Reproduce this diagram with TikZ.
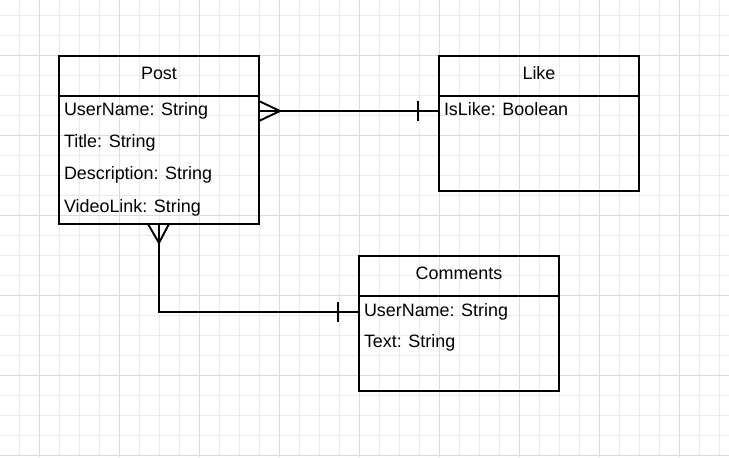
\documentclass[tikz,border=0pt]{standalone}
\usepackage{fontspec}
\setmainfont{Liberation Sans}
\usetikzlibrary{calc}

\begin{document}
\begin{tikzpicture}[x=0.02cm,y=-0.02cm,
    every node/.style={font=\fontsize{10.2}{12}\selectfont, inner sep=0pt, outer sep=0pt},
    minorgrid/.style={color=black!8, line width=0.55pt},
    majorgrid/.style={color=black!14, line width=0.55pt},
    entity/.style={draw=black, line width=1.2pt, minimum width=4cm, anchor=north west},
    head/.style={minimum height=0.8cm, text height=0.18cm, text depth=0.05cm},
    field/.style={anchor=base west},
    rel/.style={draw=black, line width=1.1pt}]
    \useasboundingbox (0,0) rectangle (729,457);
    \fill[white] (0,0) rectangle (729,457);
    % grid paper
    \foreach \x in {19.5,39.5,...,719.5} \draw[minorgrid] (\x,0) -- (\x,457);
    \foreach \y in {15,35,...,455} \draw[minorgrid] (0,\y) -- (729,\y);
    \foreach \x in {39.5,119.5,...,679.5} \draw[majorgrid] (\x,0) -- (\x,457);
    \foreach \y in {55,135,...,455} \draw[majorgrid] (0,\y) -- (729,\y);

    % Post
    \node[entity, head] (post) at (59,56) {Post};
    \node[entity, minimum height=2.56cm] (postbody) at (post.south west) {};
    \node[field] (postuser) at ($(postbody.north west)+(5,20)$) {UserName: String};
    \node[field] (posttitle) at ($(postbody.north west)+(5,52)$) {Title: String};
    \node[field] (postdesc) at ($(postbody.north west)+(5,84)$) {Description: String};
    \node[field] (postvideo) at ($(postbody.north west)+(5,116)$) {VideoLink: String};

    % Like
    \node[entity, head] (like) at (439,56) {Like};
    \node[entity, minimum height=1.9cm] (likebody) at (like.south west) {};
    \node[field] (likeis) at ($(likebody.north west)+(5,20)$) {IsLike: Boolean};

    % Comments
    \node[entity, head] (comm) at (359,256) {Comments};
    \node[entity, minimum height=1.9cm] (commbody) at (comm.south west) {};
    \node[field] (commuser) at ($(commbody.north west)+(5,20)$) {UserName: String};
    \node[field] (commtext) at ($(commbody.north west)+(5,51)$) {Text: String};

    % Post -- Like
    \draw[rel] ($(postbody.north east)+(0,15)$) -- ($(likebody.north west)+(0,15)$);
    \draw[rel] ($(postbody.north east)+(0,5)$) -- ($(postbody.north east)+(21,15)$) -- ($(postbody.north east)+(0,25)$);
    \draw[rel] ($(likebody.north west)+(-21,5)$) -- ($(likebody.north west)+(-21,25)$);

    % Post -- Comments
    \draw[rel] (postbody.south) |- ($(commbody.north west)+(0,16)$);
    \draw[rel] ($(postbody.south)+(-11,0)$) -- ($(postbody.south)+(0,19)$) -- ($(postbody.south)+(10,0)$);
    \draw[rel] ($(commbody.north west)+(-21,6)$) -- ($(commbody.north west)+(-21,26)$);
\end{tikzpicture}
\end{document}
